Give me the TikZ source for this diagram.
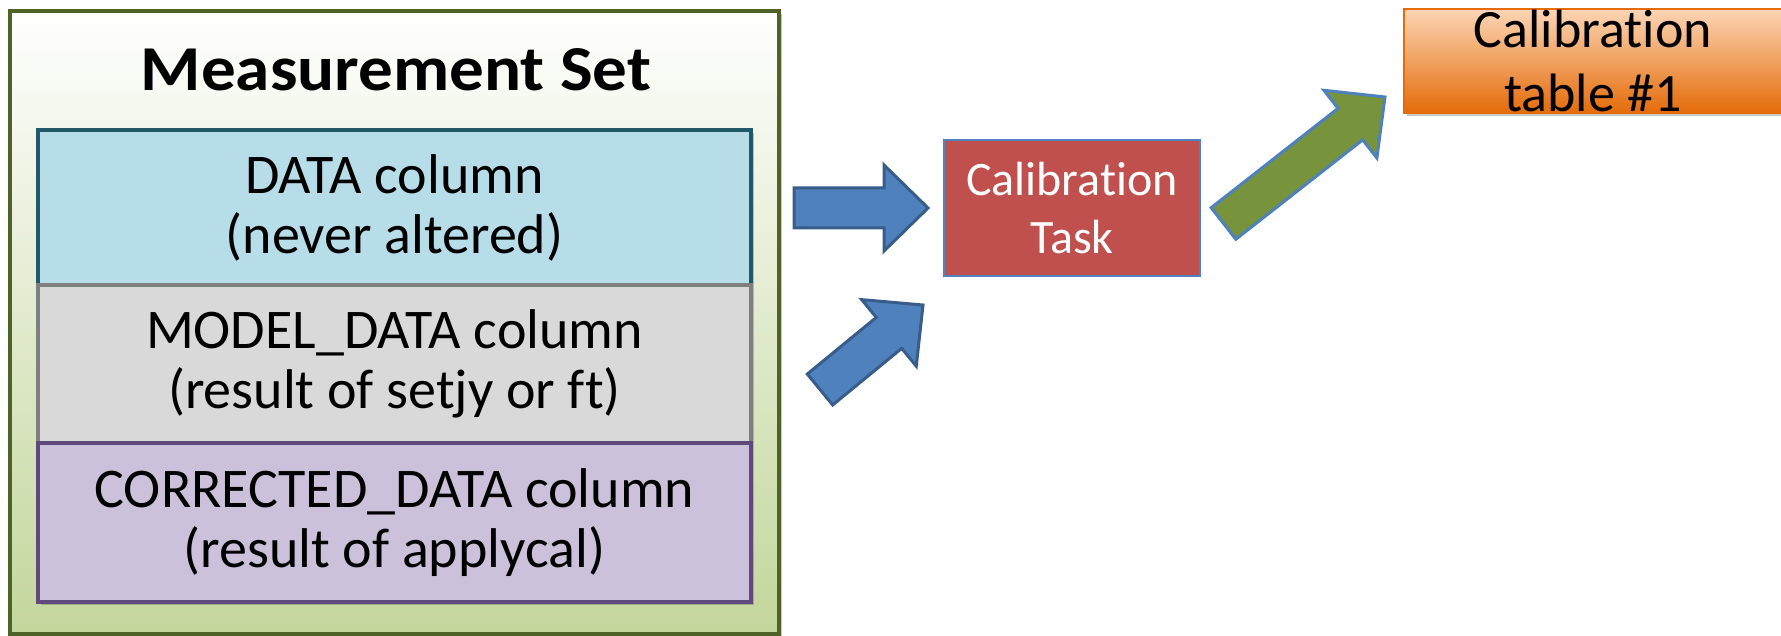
\documentclass[tikz,border=0pt]{standalone}
\usepackage{fontspec}
\setmainfont{Carlito}[Ligatures=NoCommon]
\newfontfamily\fontetitre{Carlito Bold}[FakeStretch=1.08]
\usetikzlibrary{calc,shadows}

\definecolor{vertfonce}{HTML}{4F6228}
\definecolor{vertclair}{HTML}{C3D69B}
\definecolor{bleuclair}{HTML}{B7DDE8}
\definecolor{bleucanard}{HTML}{215968}
\definecolor{grisclair}{HTML}{D9D9D9}
\definecolor{grisfonce}{HTML}{7F7F7F}
\definecolor{mauve}{HTML}{CCC1DA}
\definecolor{violet}{HTML}{5F497A}
\definecolor{rouge}{HTML}{C0504D}
\definecolor{bleu}{HTML}{4F81BD}
\definecolor{bleufonce}{HTML}{385D8A}
\definecolor{olive}{HTML}{77933C}
\definecolor{peche}{HTML}{FCD5B5}
\definecolor{orange}{HTML}{E46C0A}

% fleche epaisse de (#2) vers (#3)
\newcommand{\blocfleche}[3]{%
  \coordinate (base) at ($(#3)!44pt!(#2)$);
  \draw[#1] ($(#2)!20pt!90:(#3)$) -- ($(base)!20pt!90:(#3)$) -- ($(base)!43pt!90:(#3)$)
    -- (#3) -- ($(base)!43pt!-90:(#3)$) -- ($(base)!20pt!-90:(#3)$) -- ($(#2)!20pt!-90:(#3)$) -- cycle;}

\begin{document}
\begin{tikzpicture}[x=1pt,y=-1pt,
  ombre/.style={drop shadow={shadow xshift=3pt,shadow yshift=-3pt,opacity=.3,fill=black!70}},
  colonne/.style={draw,line width=3.5pt,minimum width=713pt,inner sep=0pt,align=center,
    font=\fontsize{56}{60}\selectfont,ombre},
  fleche/.style={line width=3pt,line join=miter}]
  \useasboundingbox (0,0) rectangle (1781,636);

  % Measurement Set
  \node[draw=vertfonce,line width=4pt,top color=white,bottom color=vertclair,
    minimum width=768.5pt,minimum height=622pt,ombre] (ms) at (394.25,322.5) {};
  \node[font=\fontetitre\fontsize{64}{70}\selectfont] (titre) at (396,70) {Measurement Set};

  % Colonnes
  \node[colonne,draw=bleucanard,fill=bleuclair,minimum height=155pt] (data) at (394.5,207.5)
    {DATA column\\(never altered)};
  \node[colonne,draw=grisfonce,fill=grisclair,minimum height=158pt] (model) at (394.5,364)
    {MODEL\_DATA column\\(result of setjy or ft)};
  \node[colonne,draw=violet,fill=mauve,minimum height=159pt] (corr) at (394.5,522.5)
    {CORRECTED\_DATA column\\(result of applycal)};

  % Tache et table
  \node[draw=bleu,line width=2pt,fill=rouge,text=white,align=center,minimum width=256pt,
    minimum height=136pt,font=\fontsize{48}{58}\selectfont] (tache) at (1072,208)
    {Calibration\\Task};
  \node[draw=orange,line width=2pt,top color=peche,bottom color=orange,align=center,inner sep=0pt,
    minimum width=378pt,minimum height=104pt,font=\fontsize{54}{64}\selectfont,ombre] (table) at (1593,61)
    {Calibration\\table \#1};

  % Fleches
  \coordinate (q1) at (794,208);
  \coordinate (p1) at (tache.west -| 928,0);
  \coordinate (q2) at (820,389.5);
  \coordinate (p2) at (923,305);
  \coordinate (q3) at (1223.5,223.5);
  \coordinate (p3) at (1385,97);
  \blocfleche{fleche,draw=bleufonce,fill=bleu}{q1}{p1}
  \blocfleche{fleche,draw=bleufonce,fill=bleu}{q2}{p2}
  \blocfleche{fleche,draw=bleu,fill=olive}{q3}{p3}
\end{tikzpicture}
\end{document}
